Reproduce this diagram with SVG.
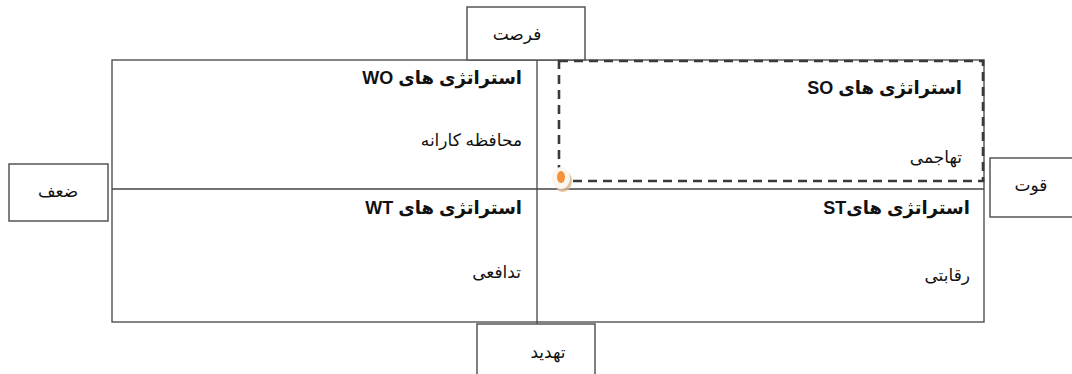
<svg xmlns="http://www.w3.org/2000/svg" width="1072" height="374" viewBox="0 0 1072 374">
<style>
.box{fill:#fff;stroke:#555;stroke-width:1.5}
.ln{stroke:#444;stroke-width:1.3;fill:none}
.dash{fill:none;stroke:#3a3a3a;stroke-width:2.6;stroke-dasharray:9 6}
.t{font-family:"Liberation Sans","DejaVu Sans",sans-serif;font-size:17px;fill:#111}
.h{font-weight:bold;font-size:18px}
.c{text-anchor:middle}
</style>
<rect width="1072" height="374" fill="#fff"/>
<g id="matrix">
<rect x="112" y="60" width="872" height="262" class="ln"/>
<line x1="537" y1="60" x2="537" y2="324" class="ln"/>
<line x1="112" y1="189" x2="984" y2="189" class="ln"/>
</g>
<g id="opportunity">
<rect x="467" y="7" width="118" height="53" class="box"/>
<text x="517" y="40" class="t c" direction="rtl">فرصت</text>
</g>
<g id="weakness">
<rect x="9" y="164" width="99" height="57" class="box"/>
<text x="58" y="197" class="t c" direction="rtl">ضعف</text>
</g>
<g id="strength">
<rect x="990" y="158" width="90" height="59" class="box"/>
<text x="1031" y="191" class="t c" direction="rtl">قوت</text>
</g>
<g id="threat">
<rect x="477" y="324" width="118" height="60" class="box"/>
<text x="548" y="358" class="t c" direction="rtl">تهدید</text>
</g>
<g id="so">
<rect x="559" y="61" width="424" height="120" class="dash"/>
<ellipse cx="563" cy="181" rx="9" ry="11" fill="#d9b48a" opacity="0.8"/>
<ellipse cx="561" cy="178" rx="9" ry="11" fill="#fbf6ef"/>
<ellipse cx="561" cy="177" rx="4" ry="6" fill="#f4913a"/>
<text x="962" y="94" class="t h" direction="rtl">استراتژی های SO</text>
<text x="962" y="163" class="t" direction="rtl">تهاجمی</text>
</g>
<g id="wo">
<text x="522" y="84" class="t h" direction="rtl">استراتژی های WO</text>
<text x="522" y="146" class="t" direction="rtl">محافظه کارانه</text>
</g>
<g id="wt">
<text x="522" y="214" class="t h" direction="rtl">استراتژی های WT</text>
<text x="521" y="278" class="t" direction="rtl">تدافعی</text>
</g>
<g id="st">
<text x="970" y="214" class="t h" direction="rtl">استراتژی هایST</text>
<text x="970" y="281" class="t" direction="rtl">رقابتی</text>
</g>
<g id="connectors"></g>
</svg>
